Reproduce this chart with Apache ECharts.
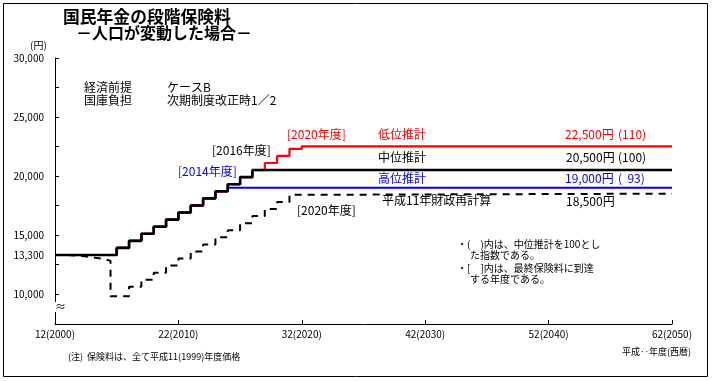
<!DOCTYPE html>
<html><head><meta charset="utf-8">
<script src="https://cdn.jsdelivr.net/npm/echarts@6/dist/echarts.min.js"></script>
<style>html,body{margin:0;padding:0;background:#fff}#c{width:714px;height:381px}</style>
</head><body><div id="c"></div>
<script>
// ---- data ----
const xTickYears = [2000, 2010, 2020, 2030, 2040, 2050];
const yLabelValues = [10000, 13300, 15000, 20000, 25000, 30000];
const yTickValues = [10000, 12500, 15000, 17500, 20000, 22500, 25000, 27500, 30000];

// 中位推計 (final 20,500 in 2016)
const midYears  = [2000, 2005, 2006, 2007, 2008, 2009, 2010, 2011, 2012, 2013, 2014, 2015, 2016, 2050];
const midValues = [13300, 13900, 14500, 15100, 15700, 16300, 16900, 17500, 18100, 18700, 19300, 19900, 20500, 20500];
// 低位推計 (final 22,500 in 2020)
const lowYears  = [2000, 2005, 2006, 2007, 2008, 2009, 2010, 2011, 2012, 2013, 2014, 2015, 2016, 2017, 2018, 2019, 2020, 2050];
const lowValues = [13300, 13900, 14500, 15100, 15700, 16300, 16900, 17500, 18100, 18700, 19300, 19900, 20500, 21100, 21700, 22300, 22500, 22500];
// 高位推計 (final 19,000 in 2014)
const highYears  = [2000, 2005, 2006, 2007, 2008, 2009, 2010, 2011, 2012, 2013, 2014, 2050];
const highValues = [13300, 13900, 14500, 15100, 15700, 16300, 16900, 17500, 18100, 18700, 19000, 19000];
// 平成11年財政再計算 (final 18,500 in 2020)
const oldYears  = [2000, 2001, 2002, 2003, 2004, 2004.5, 2006, 2007, 2008, 2009, 2010, 2011, 2012, 2013, 2014, 2015, 2016, 2017, 2018, 2019, 2020, 2050];
const oldValues = [13300, 13240, 13100, 12950, 12800, 9800, 10600, 11200, 11800, 12400, 13000, 13600, 14200, 14800, 15400, 16000, 16600, 17200, 17800, 18400, 18500, 18500];

const pair = (xs, ys) => xs.map((x, i) => [x, ys[i]]);

const FONT = '"Noto Sans CJK JP", "Noto Sans", sans-serif';
function T(text, x, y, size, color, weight) {
  return {
    type: 'text', x: x, y: y, silent: true, z: 100,
    style: {
      text: text, fill: color || '#000',
      font: (weight ? weight + ' ' : '') + size + 'px ' + FONT,
      align: 'left', verticalAlign: 'middle'
    }
  };
}

const chart = echarts.init(document.getElementById('c'), null, {renderer: 'canvas'});
chart.setOption({
  animation: false,
  backgroundColor: '#fff',
  textStyle: {fontFamily: FONT},
  grid: {left: 55, right: 42, top: 58, bottom: 57},
  xAxis: {
    type: 'value', min: 2000, max: 2050, interval: 10,
    axisLine: {show: true, lineStyle: {color: '#000', width: 1}},
    axisTick: {show: true, inside: true, length: 4, lineStyle: {color: '#000'}},
    axisLabel: {
      color: '#000', fontSize: 10, margin: 5, fontFamily: FONT,
      formatter: v => (v - 1988) + '(' + v + ')'
    },
    splitLine: {show: false}
  },
  yAxis: {
    type: 'value', min: 7450, max: 30000,
    axisLine: {show: true, lineStyle: {color: '#000', width: 1}},
    axisTick: {show: true, inside: true, length: 4, lineStyle: {color: '#000'}, customValues: yTickValues},
    axisLabel: {
      color: '#000', fontSize: 10, margin: 11, fontFamily: FONT,
      customValues: yLabelValues,
      formatter: v => v.toLocaleString('en-US')
    },
    splitLine: {show: false}
  },
  series: [
    {type: 'line', name: '平成11年財政再計算', data: pair(oldYears, oldValues), step: 'end', symbol: 'none',
     lineStyle: {color: '#000', width: 2, type: [7, 6]}},
    {type: 'line', name: '高位推計', data: pair(highYears, highValues), step: 'end', symbol: 'none',
     lineStyle: {color: '#0000ff', width: 2.2}},
    {type: 'line', name: '低位推計', data: pair(lowYears, lowValues), step: 'end', symbol: 'none',
     lineStyle: {color: '#ff0000', width: 2.2}},
    {type: 'line', name: '中位推計', data: pair(midYears, midValues), step: 'end', symbol: 'none',
     lineStyle: {color: '#000', width: 2.6}}
  ],
  graphic: [
    {type: 'rect', silent: true, z: 0, shape: {x: 3.5, y: 3.5, width: 704, height: 373},
     style: {fill: 'none', stroke: '#000', lineWidth: 1}},
    {type: 'rect', silent: true, z: 90, shape: {x: 53, y: 302, width: 5, height: 10},
     style: {fill: '#fff'}},
    T('≈', 55, 307, 11, '#000'),
    T('国民年金の段階保険料', 63, 17, 16.8, '#000', 'bold'),
    T('－人口が変動した場合－', 76, 33, 16, '#000', 'bold'),
    T('(円)', 30, 45, 10, '#000'),
    T('経済前提', 84, 87, 12, '#000'),
    T('ケースB', 167, 87, 12, '#000'),
    T('国庫負担', 84, 100, 12, '#000'),
    T('次期制度改正時1／2', 167, 100, 12, '#000'),
    T('[2016年度]', 212, 150, 12, '#000'),
    T('[2020年度]', 287, 134, 12, '#ff0000'),
    T('[2014年度]', 178, 171, 12, '#0000ff'),
    T('[2020年度]', 297, 210.5, 12, '#000'),
    T('低位推計', 378, 134, 12, '#ff0000'),
    T('中位推計', 378, 157.5, 12, '#000'),
    T('高位推計', 378, 178, 12, '#0000ff'),
    T('平成11年財政再計算', 382, 200, 12, '#000'),
    T('22,500円', 565, 134, 12, '#ff0000'),
    T('(110)', 618, 134, 12, '#ff0000'),
    T('20,500円', 566, 157.5, 12, '#000'),
    T('(100)', 618, 157.5, 12, '#000'),
    T('19,000円', 565, 178, 12, '#0000ff'),
    T('(  93)', 618, 178, 12, '#0000ff'),
    T('18,500円', 566, 201, 12, '#000'),
    T('・(　)内は、中位推計を100とし', 457, 244, 10, '#000'),
    T('た指数である。', 470, 255, 10, '#000'),
    T('・[　]内は、最終保険料に到達', 457, 268, 10, '#000'),
    T('する年度である。', 470, 279, 10, '#000'),
    T('(注)  保険料は、全て平成11(1999)年度価格', 68, 357, 9, '#000'),
    T('平成‥年度(西暦)', 622, 352, 9, '#000')
  ]
});
</script></body></html>
